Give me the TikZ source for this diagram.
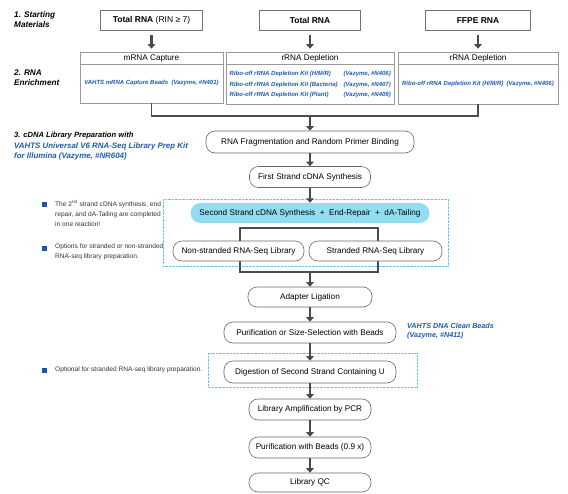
\documentclass[tikz,border=0pt]{standalone}
\usepackage{fontspec}
\setmainfont{Liberation Sans}
\usetikzlibrary{arrows.meta}
\definecolor{vblue}{HTML}{1E5AB4}
\definecolor{bulletblue}{HTML}{1F55A8}
\definecolor{pillcyan}{HTML}{93DDF2}
\definecolor{boxcyan}{HTML}{62C9EE}
\definecolor{arrgray}{HTML}{4A4A4A}
\newcommand{\fsz}[1]{\fontsize{#1}{#1}\selectfont}
\tikzset{
  topbox/.style={draw=black!55, line width=0.6pt, inner sep=0pt, font=\fsz{8.5}},
  encbox/.style={draw=black!40, line width=0.6pt, inner sep=0pt},
  enchead/.style={inner sep=0pt, font=\fsz{8.2}},
  kit/.style={inner sep=0pt, text=vblue, font=\fsz{6}\bfseries\itshape},
  flow/.style={draw=black!60, line width=0.6pt, rounded corners=9pt, fill=white, inner sep=0pt, font=\fsz{8.2}},
  pill/.style={fill=pillcyan, rounded corners=10pt, inner sep=0pt, font=\fsz{8.2}},
  arr/.style={draw=arrgray, line width=2.4pt, -{Triangle[length=4.5pt,width=7.5pt]}},
  link/.style={draw=black!70, line width=1.1pt},
  cyanbox/.style={draw=boxcyan, line width=0.7pt, dash pattern=on 0.9pt off 0.5pt},
  label/.style={inner sep=0pt, anchor=west, align=left, font=\fsz{8.2}\bfseries\itshape},
  note/.style={inner sep=0pt, anchor=north west, align=left, text=black!80, font=\fsz{6.6}},
  bullet/.style={fill=bulletblue, minimum size=5pt, inner sep=0pt},
}
\begin{document}
\begin{tikzpicture}[x=1pt,y=-1pt]
\useasboundingbox (0,0) rectangle (568,493);

% left labels
\node[label] (l1) at (14,20) {1. Starting\\[1.8pt]Materials};
\node[label] (l2) at (14,78) {2. RNA\\[1.8pt]Enrichment};
\node[label, font=\fsz{7.6}\bfseries\itshape] (l3a) at (14,136) {3. cDNA Library Preparation with};
\node[label, text=vblue, font=\fsz{7.9}\bfseries\itshape, align=left, anchor=north west] (l3b) at (14,142.5) {VAHTS Universal V6 RNA-Seq Library Prep Kit\\[2.2pt]for Illumina (Vazyme, \#NR604)};

% starting materials
\node[topbox, minimum width=102pt, minimum height=20pt] (tr1) at (151.5,20.5) {\textbf{Total RNA} (RIN ≥ 7)};
\node[topbox, minimum width=101pt, minimum height=20pt] (tr2) at (310,20.5) {\textbf{Total RNA}};
\node[topbox, minimum width=105pt, minimum height=20pt] (tr3) at (478,20.5) {\textbf{FFPE RNA}};

% enrichment boxes
\node[encbox, minimum width=143pt, minimum height=51pt] (mrna) at (151.5,77.5) {};
\node[encbox, minimum width=168pt, minimum height=52pt] (rrna) at (310,78) {};
\node[encbox, minimum width=160pt, minimum height=52pt] (rrnb) at (478,78) {};
\draw[draw=black!40, line width=0.6pt] ([yshift=-13pt]mrna.north west) -- ([yshift=-13pt]mrna.north east);
\draw[draw=black!40, line width=0.6pt] ([yshift=-13pt]rrna.north west) -- ([yshift=-13pt]rrna.north east);
\draw[draw=black!40, line width=0.6pt] ([yshift=-13pt]rrnb.north west) -- ([yshift=-13pt]rrnb.north east);
\node[enchead] (mrnah) at ([yshift=-6.5pt]mrna.north) {mRNA Capture};
\node[enchead] (rrnah) at ([yshift=-6.5pt]rrna.north) {rRNA Depletion};
\node[enchead] (rrnbh) at ([yshift=-6.5pt]rrnb.north) {rRNA Depletion};
\node[kit] (k1) at (151.5,83) {VAHTS mRNA Capture Beads\ \ (Vazyme, \#N401)};
\node[kit, anchor=west] (k2a) at (229.5,74) {Ribo-off rRNA Depletion Kit (H/M/R)};
\node[kit, anchor=west] (k2b) at (229.5,84.5) {Ribo-off rRNA Depletion Kit (Bacteria)};
\node[kit, anchor=west] (k2c) at (229.5,95) {Ribo-off rRNA Depletion Kit (Plant)};
\node[kit, anchor=east] (k2d) at (391,74) {(Vazyme, \#N406)};
\node[kit, anchor=east] (k2e) at (391,84.5) {(Vazyme, \#N407)};
\node[kit, anchor=east] (k2f) at (391,95) {(Vazyme, \#N409)};
\node[kit] (k3) at (478,84) {Ribo-off rRNA Depletion Kit (H/M/R)\ \ (Vazyme, \#N406)};

\draw[arr] ([yshift=-4pt]tr1.south) -- ([yshift=3pt]mrna.north);
\draw[arr] ([yshift=-4pt]tr2.south) -- ([yshift=3pt]rrna.north);
\draw[arr] ([yshift=-4pt]tr3.south) -- ([yshift=3pt]rrnb.north);

% main flow
\coordinate (j) at (310,116);
\node[flow, minimum width=208pt, minimum height=22pt] (frag) at (310,142) {RNA Fragmentation and Random Primer Binding};
\draw[link] (mrna.south) |- (j) -| (rrnb.south);
\draw[arr] (j) -- (frag.north);

\node[flow, minimum width=121pt, minimum height=21pt] (first) at (310,177) {First Strand cDNA Synthesis};
\draw[arr] (frag.south) -- (first.north);

% cyan box 1
\draw[cyanbox] (163,199) rectangle (448,266);
\coordinate (bka) at (240,228);
\coordinate (bkb) at (378,272);
\coordinate (bkc) at (310,272);
\draw[link] (bka) rectangle (bkb);
\node[pill, minimum width=239pt, minimum height=20pt] (second) at (310,213) {Second Strand cDNA Synthesis\ \ +\ \ End-Repair\ \ +\ \ dA-Tailing};
\draw[arr] (first.south) -- (second.north);
\node[flow, minimum width=131pt, minimum height=20pt] (nonstr) at (238.5,251) {Non-stranded RNA-Seq Library};
\node[flow, minimum width=133pt, minimum height=20pt] (str) at (375.5,251) {Stranded RNA-Seq Library};

\node[flow, minimum width=124pt, minimum height=20pt] (adapt) at (310,297) {Adapter Ligation};
\draw[arr] (bkc) -- (adapt.north);

\node[flow, minimum width=172pt, minimum height=21pt] (purif) at (310,332.5) {Purification or Size-Selection with Beads};
\draw[arr] (adapt.south) -- (purif.north);
\node[kit, anchor=north west, align=left, font=\fsz{7.2}\bfseries\itshape] (dnab) at (407,323) {VAHTS DNA Clean Beads\\[2pt](Vazyme, \#N411)};

\draw[cyanbox] (208,353) rectangle (417,387);
\node[flow, minimum width=172pt, minimum height=22pt] (dig) at (310,372) {Digestion of Second Strand Containing U};
\draw[arr] (purif.south) -- (dig.north);

\node[flow, minimum width=122pt, minimum height=21pt] (amp) at (310,409.5) {Library Amplification by PCR};
\draw[arr] (dig.south) -- (amp.north);

\node[flow, minimum width=122pt, minimum height=21pt] (pb) at (310,447.5) {Purification with Beads (0.9 x)};
\draw[arr] (amp.south) -- (pb.north);

\node[flow, minimum width=122pt, minimum height=19pt] (qc) at (310,482.5) {Library QC};
\draw[arr] (pb.south) -- (qc.north);

% notes
\node[bullet] (b1) at (44.5,204) {};
\node[note] (n1) at (55,200) {The 2\textsuperscript{nd} strand cDNA synthesis, end\\[3.4pt]repair, and dA-Tailing are completed\\[3.4pt]in one reaction!};
\node[bullet] (b2) at (44.5,248) {};
\node[note] (n2) at (55,244) {Options for stranded or non-stranded\\[3.4pt]RNA-seq library preparation.};
\node[bullet] (b3) at (44.5,370) {};
\node[note] (n3) at (55,366.5) {Optional for stranded RNA-seq library preparation.};
\end{tikzpicture}
\end{document}
